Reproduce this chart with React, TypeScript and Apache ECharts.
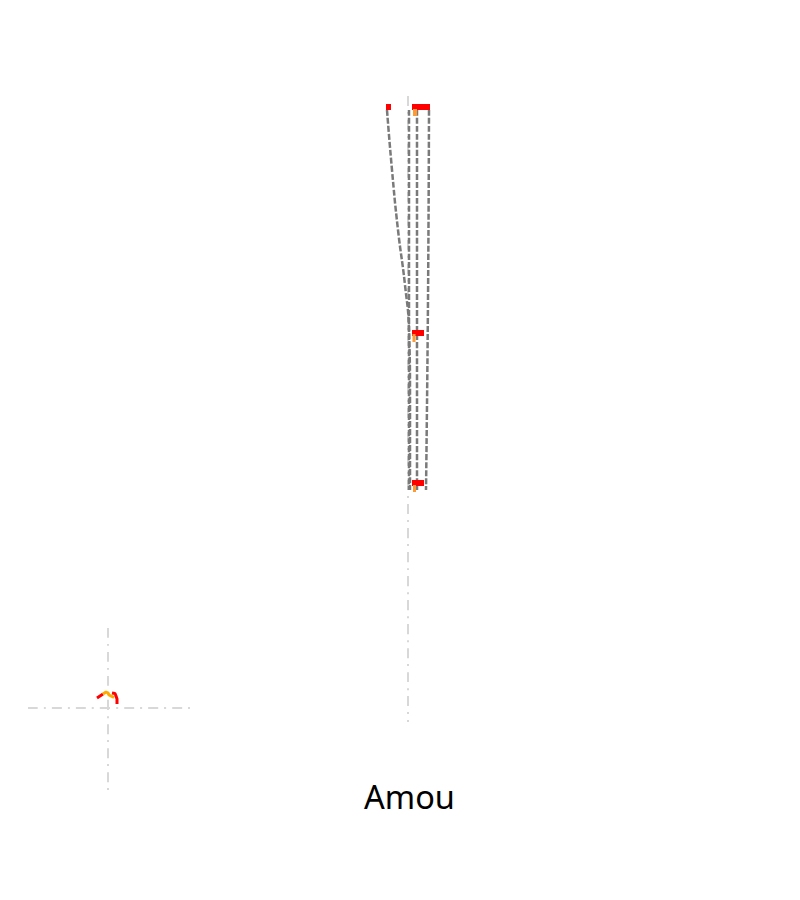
import React, { useEffect, useRef } from "react";
import * as echarts from "echarts";

const titleText = "Amou";

// connector lines (x, y) pairs in chart units
const linkA: number[][] = [[387, 110], [392, 170], [398, 230], [405, 285], [409, 330], [410, 400], [410, 490]];
const linkB: number[][] = [[409, 110], [409, 490]];
const linkC: number[][] = [[417, 110], [417, 490]];
const linkD: number[][] = [[429, 110], [428, 300], [426, 490]];

// red blocks: [xCenter, yCenter, width, height]
const redBlocks: number[][] = [
  [388.5, 107, 5, 6],
  [421, 107, 18, 6],
  [418, 333, 12, 6],
  [418, 483, 12, 6],
];
// orange ticks
const orangeBlocks: number[][] = [
  [415, 112.5, 4, 7],
  [414, 338, 3, 8],
  [414.5, 488.5, 3, 7],
];

// guide lines
const guideV: number[][] = [[408, 96], [408, 722]];
const crossH: number[][] = [[28, 708], [190, 708]];
const crossV: number[][] = [[108, 628], [108, 790]];

// mini shape
const miniRed1: number[][] = [[97, 698], [100, 696], [103, 694]];
const miniOrange: number[][] = [[103, 694], [106, 692], [108, 693], [109, 695], [111, 696], [114, 697.5]];
const miniRed2: number[][] = [[112, 693], [115, 693.5], [116, 696], [117, 699], [117, 704]];

export default function App() {
  const ref = useRef<HTMLDivElement>(null);
  useEffect(() => {
    const chart = echarts.init(ref.current!, null, { renderer: "svg" });
    const dashLine = (data: number[][], color: string, width: number, type: any, z = 2) => ({
      type: "line",
      data,
      showSymbol: false,
      symbol: "none",
      smooth: true,
      z,
      lineStyle: { color, width, type },
      silent: true,
    });
    const blocks = (data: number[][], color: string) => ({
      type: "custom",
      data,
      z: 5,
      renderItem: (params: any, api: any) => {
        const c = api.coord([api.value(0), api.value(1)]);
        const w = api.value(2);
        const h = api.value(3);
        return {
          type: "rect",
          shape: { x: c[0] - w / 2, y: c[1] - h / 2, width: w, height: h },
          style: { fill: color },
        };
      },
    });
    chart.setOption({
      animation: false,
      title: {
        text: titleText,
        left: 359,
        top: 775,
        textStyle: { fontSize: 32.5, fontWeight: "normal", color: "#000", fontFamily: "Noto Sans" },
      },
      grid: { left: 0, right: 0, top: 0, bottom: 0 },
      xAxis: { type: "value", min: 0, max: 800, show: false },
      yAxis: { type: "value", min: 0, max: 900, inverse: true, show: false },
      series: [
        dashLine(guideV, "#d8d8d8", 2, [10, 6, 2, 6], 1),
        dashLine(crossH, "#d8d8d8", 2, [10, 6, 2, 6], 1),
        dashLine(crossV, "#d8d8d8", 2, [10, 6, 2, 6], 1),
        dashLine(linkA, "#7a7a7a", 2.5, [6, 2]),
        dashLine(linkB, "#7a7a7a", 2.5, [6, 2]),
        dashLine(linkC, "#7a7a7a", 2.5, [6, 2]),
        dashLine(linkD, "#7a7a7a", 2.5, [6, 2]),
        blocks(redBlocks, "#ff0000"),
        blocks(orangeBlocks, "#ff9933"),
        { ...dashLine(miniRed1, "#ff0000", 3, "solid", 4), smooth: false },
        { ...dashLine(miniOrange, "#ffaa00", 3, "solid", 4), smooth: false },
        { ...dashLine(miniRed2, "#ff0000", 3, "solid", 4), smooth: false },
      ],
    });
    return () => chart.dispose();
  }, []);
  return <div ref={ref} style={{ width: 800, height: 900, margin: -8 }} />;
}
